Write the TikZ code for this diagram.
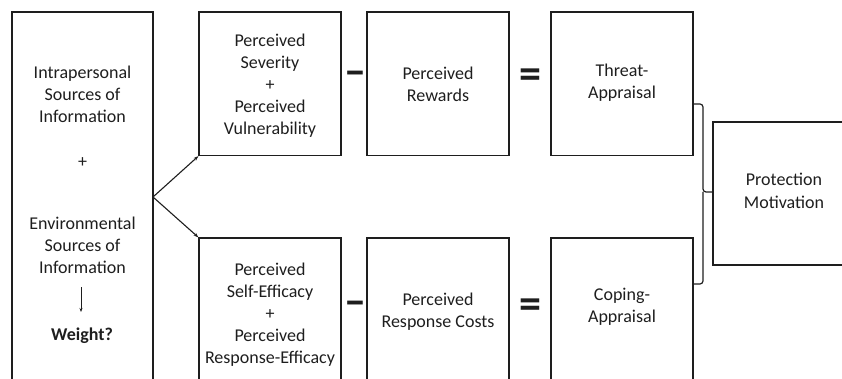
\documentclass[tikz,border=0pt]{standalone}
\usepackage{fontspec}
\setmainfont{Carlito}
\usetikzlibrary{arrows.meta}
\definecolor{ink}{HTML}{1E1E1E}
\begin{document}
\begin{tikzpicture}[x=1pt,y=-1pt,
  box/.style={draw=ink,line width=1.2pt,inner sep=0pt,minimum width=142pt},
  txt/.style={align=center,inner sep=0pt,text=ink,anchor=base,font=\fontsize{18}{22}\selectfont},
  op/.style={inner sep=0pt,text=ink,font=\fontsize{44}{44}\selectfont\bfseries},
  arr/.style={draw=ink,line width=1.1pt,-{Stealth[length=5pt,width=3.5pt]}},
  brace/.style={draw=ink,line width=1.2pt,rounded corners=3pt}]
\useasboundingbox (0,0) rectangle (842,379);
\clip (0,0) rectangle (842,379);
% boxes
\node[box,minimum width=141pt,minimum height=374pt] (left) at (82.5,199) {};
\node[box,minimum height=143.5pt] (sv) at (270,83.75) {};
\node[box,minimum height=143.5pt] (pr) at (438,83.75) {};
\node[box,minimum height=143.5pt] (ta) at (622,83.75) {};
\node[box,minimum height=148pt] (pe) at (270,312) {};
\node[box,minimum height=148pt] (rc) at (438,312) {};
\node[box,minimum height=148pt] (ca) at (622,312) {};
\node[box,minimum height=143pt] (pm) at (784,193.5) {};
% texts (anchor base = baseline of the last line)
\node[txt] (intra) at (82.5,123) {Intrapersonal\\Sources of\\Information};
\node[txt] (plus) at (82.5,168) {+};
\node[txt] (env) at (82.5,273) {Environmental\\Sources of\\Information};
\node[txt,font=\fontsize{18}{22}\selectfont\bfseries] (weight) at (82,340) {Weight?};
\node[txt] (svt) at (270,135) {Perceived\\Severity\\+\\Perceived\\Vulnerability};
\node[txt] (prt) at (438,102) {Perceived\\Rewards};
\node[txt] (tat) at (622,99) {Threat-\\Appraisal};
\node[txt] (pet) at (270,363) {Perceived\\Self-Efficacy\\+\\Perceived\\Response-Efficacy};
\node[txt] (rct) at (438,327) {Perceived\\Response Costs};
\node[txt] (cat) at (622,322) {Coping-\\Appraisal};
\node[txt] (pmt) at (784,208) {Protection\\Motivation};
% operators
\node[op] (m1) at (355,78.5) {–};
\node[op] (e1) at (530.5,79) {=};
\node[op] (m2) at (355,308) {–};
\node[op] (e2) at (530.5,308.5) {=};
% connectors
\coordinate (split) at (153,197);
\draw[arr] (split) -- (sv.south west);
\draw[arr] (split) -- (pe.north west);
\coordinate (wtop) at (81,287);
\coordinate (wbot) at (81,312);
\draw[draw=ink,line width=0.9pt,-{Stealth[length=4pt,width=3pt]}] (wtop) -- (wbot);
\coordinate (bt) at (693,104);
\coordinate (bb) at (693,284);
\draw[brace] (bt) -- (703,104) -- (703,192) -- (pm.west |- 0,192);
\draw[brace] (bb) -- (703,284) -- (703,192);
\end{tikzpicture}
\end{document}
